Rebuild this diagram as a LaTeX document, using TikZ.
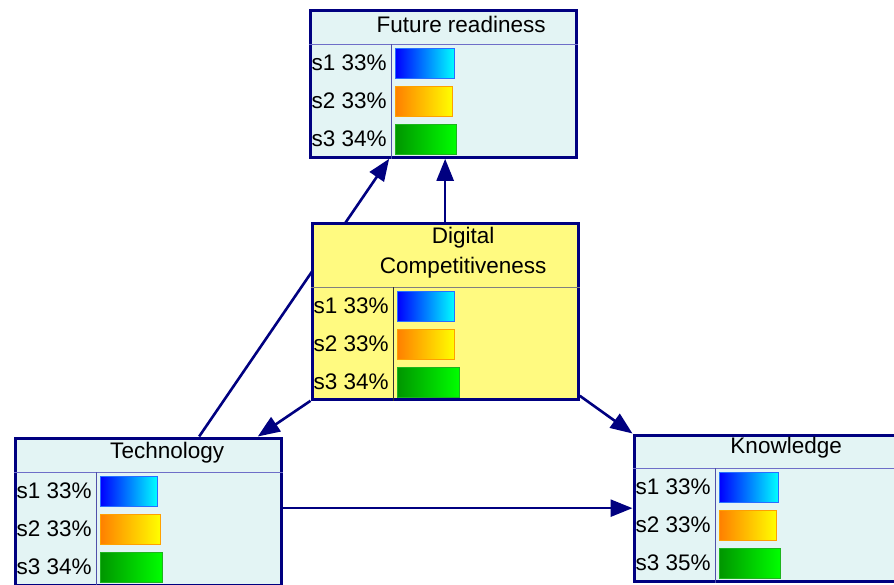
\documentclass[tikz,border=0pt]{standalone}
\usepackage{fontspec}
\setmainfont{Liberation Sans}
\usepackage{tikz}
\usetikzlibrary{arrows.meta,backgrounds}

\definecolor{arcnavy}{RGB}{0,0,128}
\definecolor{boxcyan}{RGB}{227,244,244}
\definecolor{boxyellow}{RGB}{255,250,128}
\definecolor{sepblue}{RGB}{110,110,200}
\definecolor{divblue}{RGB}{80,80,170}

% rows of a node: state/percent/bar length
\newcommand{\staterows}[2]{%
  \foreach \s/\pct/\w [count=\i from 0] in {#2} {
    \node[statelabel] (#1-s\s) at ([xshift=3pt, yshift={-19pt-38pt*\i}]#1-h) {s\s\ \pct\%};
    \draw[bar\s] ([xshift=87pt, yshift={-4pt-38pt*\i}]#1-h) rectangle ++(\w pt, -30pt);
  }%
}

\begin{document}
\begin{tikzpicture}[
    x=1pt, y=-1pt,
    font=\fontsize{22.5}{30}\selectfont,
    netbox/.style={draw=arcnavy, line width=3.3pt, fill=boxcyan, minimum width=266pt, inner sep=0pt, anchor=north west},  % Style for the nodes
    nodetitle/.style={align=center, inner sep=0pt},
    statelabel/.style={anchor=west, inner sep=0pt},
    headsep/.style={draw=sepblue, line width=1pt},
    divsep/.style={draw=divblue, line width=1pt},
    bar1/.style={left color=blue, right color=cyan, draw={rgb,255:red,40;green,110;blue,255}, line width=1pt},
    bar2/.style={left color={rgb,255:red,255;green,128;blue,0}, right color=yellow, draw={rgb,255:red,255;green,160;blue,0}, line width=1pt},
    bar3/.style={left color={rgb,255:red,0;green,150;blue,0}, right color={rgb,255:red,0;green,255;blue,0}, draw={rgb,255:red,30;green,180;blue,30}, line width=1pt},
    link/.style={draw=arcnavy, line width=2.6pt, -{Triangle[length=22pt, width=17pt]}}  % Style for the arrows
    ]
    \useasboundingbox (0,0) rectangle (894,584);

    % Future readiness
    \node[netbox, minimum height=147pt] (future) at (308.5,8.5) {};
    \coordinate (future-h) at ([yshift=-35.5pt]future.north west);
    \draw[headsep] (future-h) -- (future-h -| future.east);
    \draw[divsep] ([xshift=83pt]future-h) -- ([xshift=83pt]future.south west);
    \node[nodetitle] (future-t) at ([xshift=18pt, yshift=-16pt]future.north) {Future readiness};
    \staterows{future}{1/33/59, 2/33/57, 3/34/61}

    % Digital Competitiveness
    \node[netbox, fill=boxyellow, minimum height=176pt] (digital) at (310.5,221.5) {};
    \coordinate (digital-h) at ([yshift=-65.5pt]digital.north west);
    \draw[headsep, draw=gray] (digital-h) -- (digital-h -| digital.east);
    \draw[divsep, draw=black!80] ([xshift=83pt]digital-h) -- ([xshift=83pt]digital.south west);
    \node[nodetitle] (digital-t) at ([xshift=18pt, yshift=-31pt]digital.north) {Digital\\Competitiveness};
    \staterows{digital}{1/33/57, 2/33/57, 3/34/62}

    % Technology
    \node[netbox, minimum height=147pt] (tech) at (13.5,436.5) {};
    \coordinate (tech-h) at ([yshift=-35.5pt]tech.north west);
    \draw[headsep] (tech-h) -- (tech-h -| tech.east);
    \draw[divsep] ([xshift=83pt]tech-h) -- ([xshift=83pt]tech.south west);
    \node[nodetitle] (tech-t) at ([xshift=19pt, yshift=-16pt]tech.north) {Technology};
    \staterows{tech}{1/33/57, 2/33/60, 3/34/62}

    % Knowledge
    \node[netbox, minimum height=146pt] (know) at (632.5,433.5) {};
    \coordinate (know-h) at ([yshift=-34.5pt]know.north west);
    \draw[headsep] (know-h) -- (know-h -| know.east);
    \draw[divsep] ([xshift=83pt]know-h) -- ([xshift=83pt]know.south west);
    \node[nodetitle] (know-t) at ([xshift=19pt, yshift=-14pt]know.north) {Knowledge};
    \staterows{know}{1/33/59, 2/33/57, 3/35/61}

    % Arcs, behind the nodes
    \begin{scope}[on background layer]
        \draw[link] ([xshift=51pt]tech.north) -- ([xshift=-54pt]future.south);
        \draw[link] (digital.north) -- (digital.north |- future.south);
        \draw[link] (digital.south west) -- ([xshift=-25pt]tech.north east);
        \draw[link] ([yshift=5pt]digital.south east) -- (know.north west);
        \draw[link] (tech.east |- know.west) -- (know.west);
    \end{scope}

\end{tikzpicture}
\end{document}
